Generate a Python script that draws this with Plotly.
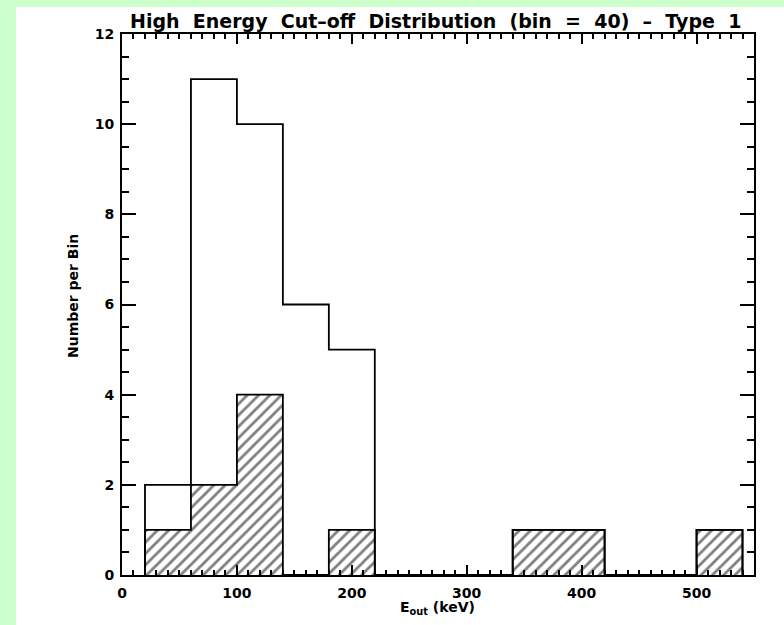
import plotly.graph_objects as go

# Histogram of high-energy cut-off values, bin width 40 keV
bin_width = 40
bin_starts = [20, 60, 100, 140, 180, 220, 260, 300, 340, 380, 420, 460, 500]
total_counts = [2, 11, 10, 6, 5, 0, 0, 0, 1, 1, 0, 0, 1]
hatched_counts = [1, 2, 4, 0, 1, 0, 0, 0, 1, 1, 0, 0, 1]

title_words = ["High", "Energy", "Cut\u2013off", "Distribution", "(bin", "=", "40)", "\u2013", "Type", "1"]
x_title = "E<sub>out</sub> (keV)"
y_title = "Number per Bin"


def step_outline(starts, counts, width):
    """Histogram outline as an 'hv' step path, closed down to zero at both ends."""
    xs = [starts[0]] + list(starts) + [starts[-1] + width]
    ys = [0] + list(counts) + [0]
    return xs, ys


hx, hy = step_outline(bin_starts, hatched_counts, bin_width)
tx, ty = step_outline(bin_starts, total_counts, bin_width)

fig = go.Figure()

# hatched sub-sample
fig.add_trace(go.Scatter(
    x=hx, y=hy, mode="lines", line=dict(shape="hv", color="black", width=1.8),
    fill="tozeroy", fillcolor="rgba(0,0,0,0)",
    fillpattern=dict(shape="/", fgcolor="black", bgcolor="white", size=8, solidity=0.35),
    hoverinfo="skip", showlegend=False,
))

# full sample outline
fig.add_trace(go.Scatter(
    x=tx, y=ty, mode="lines", line=dict(shape="hv", color="black", width=1.8),
    hoverinfo="skip", showlegend=False,
))

L, R, T, B = 122, 30, 34, 50
W, H = 784, 625
pw, ph = W - L - R, H - T - B


def px_x(px):
    return (px - L) / pw


def px_y(py):
    return (H - B - py) / ph


green = "#ccffcc"
tick_font = dict(family="DejaVu Sans", size=14, color="black", weight="bold")

fig.update_layout(
    width=W, height=H,
    margin=dict(l=L, r=R, t=T, b=B, pad=0),
    paper_bgcolor="white", plot_bgcolor="white",
    showlegend=False,
    xaxis=dict(
        range=[0, 550], dtick=100, tick0=0,
        showgrid=False, zeroline=False,
        showline=True, linecolor="black", linewidth=2, mirror="allticks",
        ticks="inside", ticklen=10, tickwidth=1.5, tickcolor="black",
        minor=dict(ticks="inside", dtick=10, ticklen=5, tickwidth=1.5, tickcolor="black"),
        tickfont=tick_font, ticklabelstandoff=4,
    ),
    yaxis=dict(
        range=[0, 12], dtick=2, tick0=0,
        showgrid=False, zeroline=False,
        showline=True, linecolor="black", linewidth=2, mirror="allticks",
        ticks="inside", ticklen=14, tickwidth=1.5, tickcolor="black",
        minor=dict(ticks="inside", dtick=0.5, ticklen=7, tickwidth=1.5, tickcolor="black"),
        tickfont=tick_font, ticklabelstandoff=3,
    ),
    shapes=[
        dict(type="rect", xref="paper", yref="paper", layer="below",
             x0=px_x(-5), x1=px_x(16), y0=px_y(H + 5), y1=px_y(-5),
             fillcolor=green, line=dict(width=0)),
        dict(type="rect", xref="paper", yref="paper", layer="below",
             x0=px_x(-5), x1=px_x(W + 5), y0=px_y(7), y1=px_y(-5),
             fillcolor=green, line=dict(width=0)),
    ],
    annotations=[
        dict(text="\u00a0\u00a0".join(title_words), xref="paper", yref="paper",
             x=px_x(435), y=px_y(21), xanchor="center", yanchor="middle", showarrow=False,
             font=dict(family="DejaVu Sans", size=19, color="black", weight="bold")),
        dict(text=x_title, xref="paper", yref="paper", x=px_x(437), y=px_y(608),
             xanchor="center", yanchor="middle", showarrow=False,
             font=dict(family="DejaVu Sans", size=14, color="black", weight="bold")),
        dict(text=y_title, xref="paper", yref="paper", x=px_x(73), y=px_y(296),
             xanchor="center", yanchor="middle", showarrow=False, textangle=-90,
             font=dict(family="DejaVu Sans", size=14, color="black", weight="bold")),
    ],
)

fig.write_html("out.html")
